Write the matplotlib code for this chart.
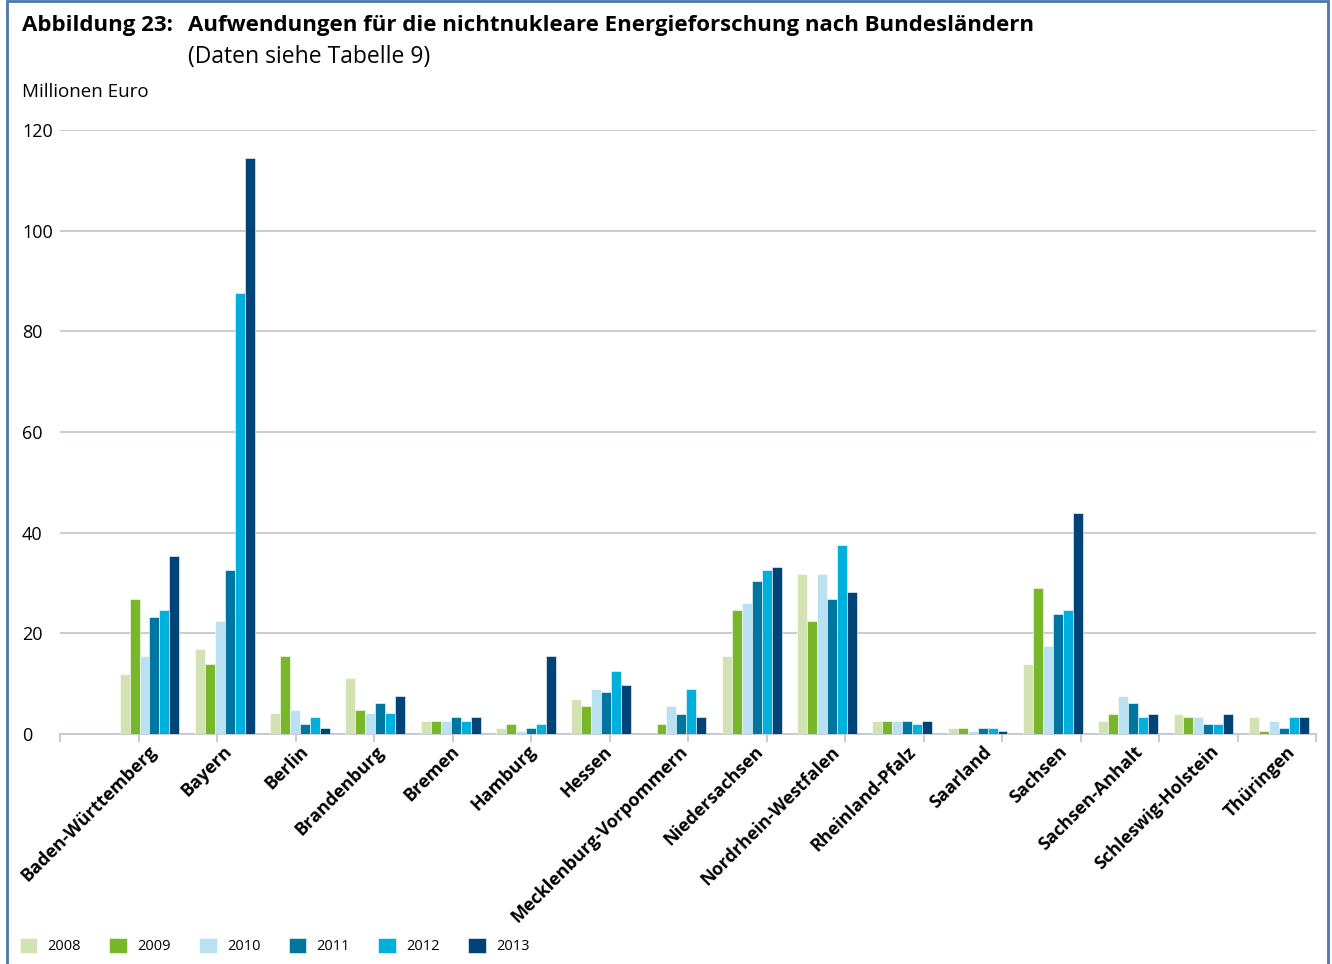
import matplotlib
matplotlib.use("Agg")
import matplotlib.pyplot as plt
import matplotlib.transforms as mtransforms
from matplotlib.patches import Rectangle
import numpy as np

plt.rcParams['font.family'] = ['Open Sans', 'DejaVu Sans']

laender = ["Baden-Württemberg", "Bayern", "Berlin", "Brandenburg", "Bremen",
           "Hamburg", "Hessen", "Mecklenburg-Vorpommern", "Niedersachsen",
           "Nordrhein-Westfalen", "Rheinland-Pfalz", "Saarland", "Sachsen",
           "Sachsen-Anhalt", "Schleswig-Holstein", "Thüringen"]
jahre = ["2008", "2009", "2010", "2011", "2012", "2013"]

v2008 = [12.0, 16.8, 4.1, 11.1, 2.6, 1.1, 6.9, 0.0, 15.4, 31.8, 2.6, 1.1, 14.0, 2.6, 4.0, 3.3]
v2009 = [26.8, 14.0, 15.4, 4.8, 2.6, 1.9, 5.5, 1.9, 24.7, 22.5, 2.6, 1.1, 29.0, 4.0, 3.3, 0.5]
v2010 = [15.4, 22.5, 4.7, 4.1, 2.6, 0.5, 9.0, 5.5, 26.1, 31.8, 2.6, 0.5, 17.5, 7.6, 3.3, 2.6]
v2011 = [23.2, 32.5, 1.9, 6.2, 3.3, 1.1, 8.3, 4.0, 30.4, 26.8, 2.6, 1.1, 23.9, 6.2, 1.9, 1.1]
v2012 = [24.7, 87.7, 3.3, 4.1, 2.6, 1.9, 12.6, 9.0, 32.5, 37.5, 1.9, 1.1, 24.7, 3.3, 1.9, 3.3]
v2013 = [35.3, 114.5, 1.2, 7.6, 3.3, 15.4, 9.7, 3.3, 33.2, 28.3, 2.6, 0.5, 43.9, 4.0, 4.0, 3.3]
werte = [v2008, v2009, v2010, v2011, v2012, v2013]

farben = ["#d3e2b3", "#78b72a", "#b9e1f2", "#00759f", "#00b0dc", "#004376"]

W, H = 1332, 964
fig = plt.figure(figsize=(W / 100, H / 100), dpi=100)
ax = fig.add_axes([60 / W, (H - 734) / H, (1316 - 60) / W, (734 - 130) / H])

# group centres are slightly narrower spaced than the category ticks
n = len(laender)
mitte = 1.14 + np.arange(n) * 0.959
label_x = 1.11 + np.arange(n) * 0.967
bw = 0.127
for k, (jahr, vals, c) in enumerate(zip(jahre, werte, farben)):
    ax.bar(mitte + (k - 2.5) * bw, vals, width=bw, color=c, label=jahr,
           edgecolor="white", linewidth=0.4, zorder=3)

ax.set_xlim(0, n)
ax.set_ylim(0, 120)
ax.set_yticks(range(0, 121, 20))
ax.grid(axis="y", color="#c3c8cf", linewidth=1.3, zorder=0)
for s in ["left", "right", "top"]:
    ax.spines[s].set_visible(False)
ax.spines["bottom"].set_color("#c3c8cf")
ax.spines["bottom"].set_linewidth(1.3)
ax.set_xticks(np.arange(n + 1))
ax.set_xticklabels([])
ax.tick_params(axis="x", length=6, color="#c3c8cf", width=1.3)
ax.tick_params(axis="y", length=0, labelsize=13, pad=0)
for lab in ax.get_yticklabels():
    lab.set_horizontalalignment("left")
    lab.set_transform(mtransforms.blended_transform_factory(fig.transFigure, ax.transData))
    lab.set_x(22 / W)

trans = mtransforms.blended_transform_factory(ax.transData, ax.transAxes)
for x, name in zip(label_x, laender):
    ax.text(x, -0.014, name, transform=trans, rotation=45,
            rotation_mode="anchor", ha="right", va="top",
            fontsize=13, fontweight="bold")

fig.text(22 / W, 1 - 25 / H, "Abbildung 23:", fontsize=16, fontweight="bold", va="center")
fig.text(188 / W, 1 - 25 / H, "Aufwendungen für die nichtnukleare Energieforschung nach Bundesländern",
         fontsize=16, fontweight="bold", va="center")
fig.text(188 / W, 1 - 57 / H, "(Daten siehe Tabelle 9)", fontsize=16.5, va="center")
fig.text(22 / W, 1 - 92 / H, "Millionen Euro", fontsize=13.5, va="center")

fig.legend(loc="center left", bbox_to_anchor=(14 / W, 1 - 946 / H), ncol=6,
           frameon=False, fontsize=10.5, handlelength=1.2, handleheight=1.2,
           handletextpad=0.7, columnspacing=1.95, borderaxespad=0)

fig.patches.append(Rectangle((7 / W, -0.01), (1328 - 7) / W, 1.01 - 1 / H,
                             transform=fig.transFigure, fill=False,
                             edgecolor="#4a78a8", linewidth=2))

fig.savefig("out.png", dpi=100)
